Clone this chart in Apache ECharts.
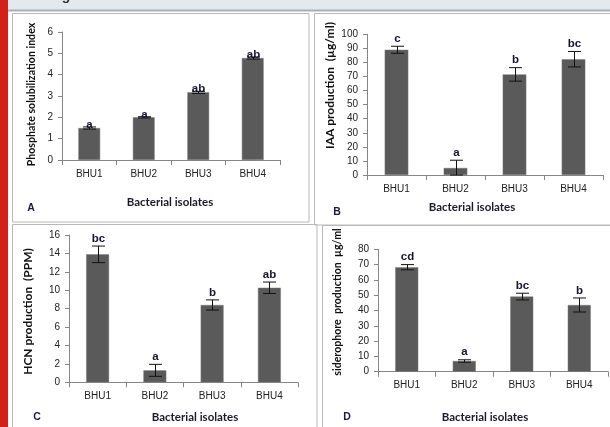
<!DOCTYPE html>
<html>
<head>
<meta charset="utf-8">
<script src="https://cdn.jsdelivr.net/npm/echarts@6/dist/echarts.min.js"></script>
<style>
html,body{margin:0;padding:0;background:#fff;}
#c{width:610px;height:427px;}
</style>
</head>
<body>
<div id="c"></div>
<script>
// ---- data ----
const categories = ['BHU1', 'BHU2', 'BHU3', 'BHU4'];

const psiValues = [1.5, 2.0, 3.17, 4.78];
const psiErrors = [0.05, 0.03, 0.05, 0.05];
const psiLetters = ['a', 'a', 'ab', 'ab'];

const iaaValues = [89, 5, 71.5, 82.3];
const iaaErrors = [2.5, 5.5, 4.8, 5.5];
const iaaLetters = ['c', 'a', 'b', 'bc'];

const hcnValues = [13.9, 1.3, 8.4, 10.27];
const hcnErrors = [0.9, 0.65, 0.55, 0.62];
const hcnLetters = ['bc', 'a', 'b', 'ab'];

const sidValues = [68.3, 7.0, 49.1, 43.6];
const sidErrors = [1.7, 0.8, 2.2, 4.6];
const sidLetters = ['cd', 'a', 'bc', 'b'];

const yMax = [6, 100, 16, 80];
const yInterval = [1, 10, 2, 10];
const yNames = ['Phosphate solubilization index', 'IAA production  (\u00b5g/ml)', 'HCN production  (PPM)', 'siderophore  production  \u00b5g/ml'];
const xName = 'Bacterial isolates';
const panelLetters = ['A', 'B', 'C', 'D'];

// ---- layout ----
const grids = [
  {left: 62, top: 32, width: 218, height: 128},
  {left: 367, top: 34.3, width: 236, height: 140.7},
  {left: 69, top: 235, width: 229, height: 147.3},
  {left: 378, top: 249.3, width: 230, height: 122.4}
];
const labelOffsets = [-4, 1.5, 1.5, 1.5];
const yNamePos = [[32, 94.5], [330, 85.5], [28, 311.5], [338, 302]];
const yNameSizes = [10.6, 12, 12, 10.6];
const xNamePos = [[170, 202], [472, 207], [195, 417], [485, 417]];
const letterPos = [[31, 208], [337, 212], [37, 417], [347, 417]];

const panels = [
  [psiValues, psiErrors, psiLetters],
  [iaaValues, iaaErrors, iaaLetters],
  [hcnValues, hcnErrors, hcnLetters],
  [sidValues, sidErrors, sidLetters]
];

const axisColor = '#868686';
const tickFont = {fontFamily: 'Liberation Sans', fontSize: 10, color: '#222'};

const xAxes = [], yAxes = [], series = [];
grids.forEach((g, i) => {
  xAxes.push({
    type: 'category', gridIndex: i, data: categories,
    axisLine: {lineStyle: {color: axisColor}},
    axisTick: {show: true, length: 5, lineStyle: {color: axisColor}},
    axisLabel: Object.assign({margin: 9}, tickFont)
  });
  yAxes.push({
    type: 'value', gridIndex: i, min: 0, max: yMax[i], interval: yInterval[i],
    axisLine: {show: true, lineStyle: {color: axisColor}},
    axisTick: {show: true, length: 4, lineStyle: {color: axisColor}},
    splitLine: {show: false},
    axisLabel: Object.assign({margin: 9}, tickFont)
  });
  const [vals, errs, letters] = panels[i];
  series.push({
    type: 'bar', xAxisIndex: i, yAxisIndex: i, data: vals,
    barWidth: '40%',
    itemStyle: {color: '#5a5a5a', borderColor: '#7a7a7a', borderWidth: 0.5},
    silent: true
  });
  const off = labelOffsets[i];
  series.push({
    type: 'custom', xAxisIndex: i, yAxisIndex: i,
    data: vals.map((v, k) => [k, v, errs[k], letters[k]]),
    renderItem: function (params, api) {
      const k = api.value(0), v = api.value(1), e = api.value(2);
      const lt = letters[k];
      const top = api.coord([k, v + e]);
      const bot = api.coord([k, Math.max(v - e, 0)]);
      const cap = 6.5;
      const x = Math.round(top[0]) + 0.5;
      return {
        type: 'group',
        children: [
          {type: 'line', shape: {x1: x, y1: top[1], x2: x, y2: bot[1]}, style: {stroke: '#111', lineWidth: 1}},
          {type: 'line', shape: {x1: x - cap, y1: top[1], x2: x + cap, y2: top[1]}, style: {stroke: '#111', lineWidth: 1}},
          {type: 'line', shape: {x1: x - cap, y1: bot[1], x2: x + cap, y2: bot[1]}, style: {stroke: '#111', lineWidth: 1}},
          {type: 'text', x: x, y: top[1] - off,
            style: {text: lt, align: 'center', verticalAlign: 'bottom', fill: '#15152e',
              font: 'bold 11.5px "Liberation Sans"'}}
        ]
      };
    },
    z: 5, silent: true
  });
});

const graphics = [];
// top strip & red bar
graphics.push({type: 'rect', shape: {x: 8, y: 0, width: 602, height: 10}, style: {fill: '#e4e9ee'}, z: -10});
graphics.push({type: 'line', shape: {x1: 8, y1: 10.5, x2: 610, y2: 10.5}, style: {stroke: '#aab0b6', lineWidth: 2}, z: -9});
graphics.push({type: 'rect', shape: {x: 0, y: 0, width: 8, height: 427}, style: {fill: '#d3201a'}, z: -8});
graphics.push({type: 'text', x: 66, y: -11, style: {text: 'g', font: 'bold 14px "Liberation Sans"', fill: '#333', align: 'center'}, z: -9});
// panel borders
const borders = [
  [12.5, 13.5, 296.5, 208.5],
  [314.5, 13.5, 300, 211.5],
  [12.5, 224.5, 304.5, 210],
  [322.5, 225.5, 300, 210]
];
borders.forEach(b => {
  graphics.push({type: 'rect', shape: {x: b[0], y: b[1], width: b[2], height: b[3]},
    style: {fill: 'none', stroke: '#b8b8b8', lineWidth: 1}, z: -5});
});
yNamePos.forEach((p, i) => {
  graphics.push({type: 'text', x: p[0], y: p[1], rotation: Math.PI / 2,
    style: {text: yNames[i], align: 'center', verticalAlign: 'middle', fill: '#111',
      font: 'bold ' + yNameSizes[i] + 'px Lato'}});
});
xNamePos.forEach((p, i) => {
  graphics.push({type: 'text', x: p[0], y: p[1],
    style: {text: xName, align: 'center', verticalAlign: 'middle', fill: '#1a1a2a',
      font: 'bold 11.5px Lato'}});
});
letterPos.forEach((p, i) => {
  graphics.push({type: 'text', x: p[0], y: p[1],
    style: {text: panelLetters[i], align: 'center', verticalAlign: 'middle', fill: '#1a1a3a',
      font: 'bold 10.5px "Liberation Sans"'}});
});

const chart = echarts.init(document.getElementById('c'), null, {renderer: 'canvas'});
chart.setOption({
  backgroundColor: '#ffffff',
  animation: false,
  grid: grids,
  xAxis: xAxes,
  yAxis: yAxes,
  series: series,
  graphic: graphics
});
</script>
</body>
</html>
